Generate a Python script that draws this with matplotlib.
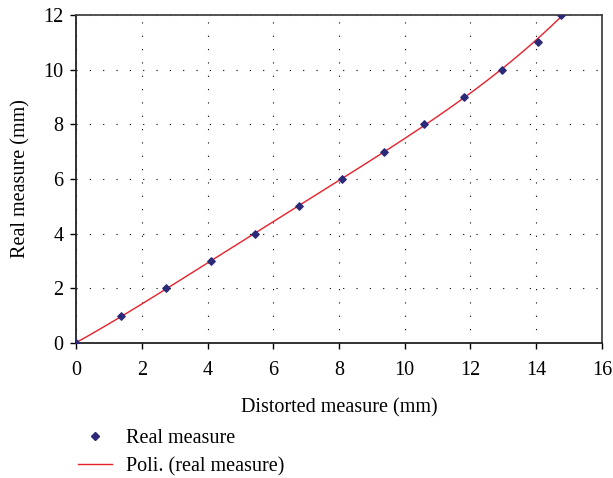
import numpy as np
import matplotlib
matplotlib.use("Agg")
import matplotlib.pyplot as plt
from matplotlib.lines import Line2D

# measured points
distorted = [0.0, 1.37, 2.74, 4.10, 5.44, 6.78, 8.08, 9.36, 10.60, 11.80, 12.95, 14.04, 14.74]
real = [0, 1, 2, 3, 4, 5, 6, 7, 8, 9, 10, 11, 12]

plt.rcParams['font.family'] = ['Liberation Serif', 'DejaVu Serif']
plt.rcParams['font.size'] = 14.5

fig = plt.figure(figsize=(6.13, 4.78), dpi=100)
ax = fig.add_axes([0.124, 0.282, 0.858, 0.687])

# polynomial trend line through the points
coef = np.polyfit(distorted, real, 4)
xs = np.linspace(0, max(distorted), 200)
ax.plot(xs, np.polyval(coef, xs), color='#e8202a', lw=1.0, zorder=2)
ax.scatter(distorted, real, marker='D', s=14, color='#2a2a78', zorder=3)

ax.set_xlim(0, 16)
ax.set_ylim(0, 12)
ax.set_xticks(range(0, 17, 2))
ax.set_yticks(range(0, 13, 2))
ax.grid(True, color='black', linestyle=(0, (1, 11)), linewidth=0.8)
ax.tick_params(direction='out', length=4, width=1)
ax.tick_params(axis='x', pad=9)
ax.tick_params(axis='y', pad=5)

for side in ['left', 'bottom']:
    ax.spines[side].set_linewidth(1.3)
    ax.spines[side].set_color('#222222')
for side in ['top', 'right']:
    ax.spines[side].set_linewidth(1.3)
    ax.spines[side].set_color('#444444')

ax.set_xlabel('Distorted measure (mm)', labelpad=13)
ax.set_ylabel('Real measure (mm)', labelpad=9)

handles = [
    Line2D([], [], marker='D', markersize=4, color='#2a2a78', linestyle='None'),
    Line2D([], [], color='#e8202a', lw=1.0),
]
fig.legend(handles, ['Real measure', 'Poli. (real measure)'],
           loc='upper left', bbox_to_anchor=(0.114, 0.12), frameon=False,
           handlelength=1.7, labelspacing=0.45, handletextpad=0.7,
           borderaxespad=0)

fig.savefig('out.png', dpi=100)
